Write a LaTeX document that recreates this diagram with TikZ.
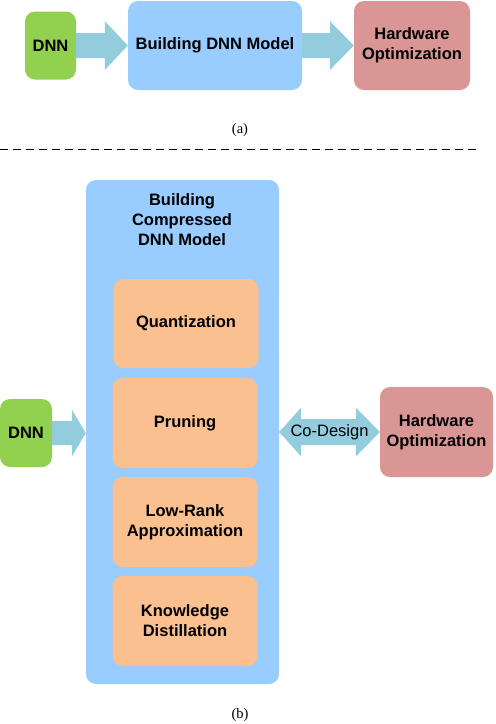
\documentclass[tikz,border=0pt]{standalone}
\usepackage{fontspec}
\setmainfont{Liberation Sans}
\newfontfamily\capfont{Liberation Serif}
\usetikzlibrary{calc}
\definecolor{cgreen}{HTML}{92D050}
\definecolor{cblue}{HTML}{99CCFF}
\definecolor{cred}{HTML}{D99694}
\definecolor{corange}{HTML}{FAC090}
\definecolor{carrow}{HTML}{93CDDD}
\begin{document}
\begin{tikzpicture}[x=1pt,y=-1pt,
  box/.style={rectangle,rounded corners=10pt,inner sep=0pt,align=center,
    font=\fontsize{16.5}{20}\selectfont\bfseries},
  gbox/.style={box,fill=cgreen},
  bbox/.style={box,fill=cblue},
  rbox/.style={box,fill=cred},
  obox/.style={box,fill=corange},
  arr/.style={fill=carrow},
  captext/.style={font=\capfont\fontsize{14.5}{16}\selectfont,inner sep=0pt}]
\useasboundingbox (0,0) rectangle (496,724);
% ---------- (a) ----------
\node[gbox,minimum width=51pt,minimum height=68pt] (dnnA) at (50.5,45.5) {DNN};
\node[bbox,minimum width=174pt,minimum height=89pt] (bdm) at (215,45.5) {Building DNN Model};
\node[rbox,minimum width=116pt,minimum height=89pt] (hwA) at (412,45.5) {Hardware\\Optimization};
\fill[arr] ($(dnnA.east)+(0,-12.5)$) -- ($(bdm.west)+(-23,-12.5)$) -- ($(bdm.west)+(-23,-24.5)$)
  -- (bdm.west) -- ($(bdm.west)+(-23,24.5)$) -- ($(bdm.west)+(-23,12.5)$) -- ($(dnnA.east)+(0,12.5)$) -- cycle;
\fill[arr] ($(bdm.east)+(0,-12.5)$) -- ($(hwA.west)+(-24,-12.5)$) -- ($(hwA.west)+(-24,-24.5)$)
  -- (hwA.west) -- ($(hwA.west)+(-24,24.5)$) -- ($(hwA.west)+(-24,12.5)$) -- ($(bdm.east)+(0,12.5)$) -- cycle;
\node[captext] (capA) at (240,130) {(a)};
\coordinate (dl) at (0,149);
\coordinate (dr) at (478,149);
\draw[line width=1pt,dash pattern=on 8pt off 5pt] (dl) -- (dr);
% ---------- (b) ----------
\node[bbox,minimum width=193pt,minimum height=504pt] (big) at (182.5,432) {};
\node[box,fill=none] (title) at (182,220) {Building\\Compressed\\DNN Model};
\node[obox,minimum width=145pt,minimum height=89pt] (q) at (186,323.5) {Quantization};
\node[obox,minimum width=145pt,minimum height=90pt] (p) at (185,423) {Pruning};
\node[obox,minimum width=145pt,minimum height=90pt] (l) at (185,522) {Low-Rank\\Approximation};
\node[obox,minimum width=145pt,minimum height=90pt] (k) at (185,621) {Knowledge\\Distillation};
\node[gbox,minimum width=52pt,minimum height=68pt] (dnnB) at (26,433) {DNN};
\node[rbox,minimum width=113pt,minimum height=90pt] (hwB) at (436.5,432) {Hardware\\Optimization};
\coordinate (bigin) at (big.west |- dnnB.east);
\fill[arr] ($(dnnB.east)+(0,-12)$) -- ($(bigin)+(-14,-12)$) -- ($(bigin)+(-14,-23.5)$)
  -- (bigin) -- ($(bigin)+(-14,23.5)$) -- ($(bigin)+(-14,12)$) -- ($(dnnB.east)+(0,12)$) -- cycle;
\coordinate (bigout) at (big.east |- hwB.west);
\fill[arr] (bigout) -- ($(bigout)+(22,-24.5)$) -- ($(bigout)+(22,-13)$) -- ($(hwB.west)+(-24,-13)$)
  -- ($(hwB.west)+(-24,-24.5)$) -- (hwB.west) -- ($(hwB.west)+(-24,24.5)$) -- ($(hwB.west)+(-24,13)$)
  -- ($(bigout)+(22,13)$) -- ($(bigout)+(22,24.5)$) -- cycle;
\node[font=\fontsize{16.5}{20}\selectfont,inner sep=0pt] (cod) at ($(bigout)!0.5!(hwB.west)$) {Co-Design};
\node[captext] (capB) at (240,715) {(b)};
\end{tikzpicture}
\end{document}
